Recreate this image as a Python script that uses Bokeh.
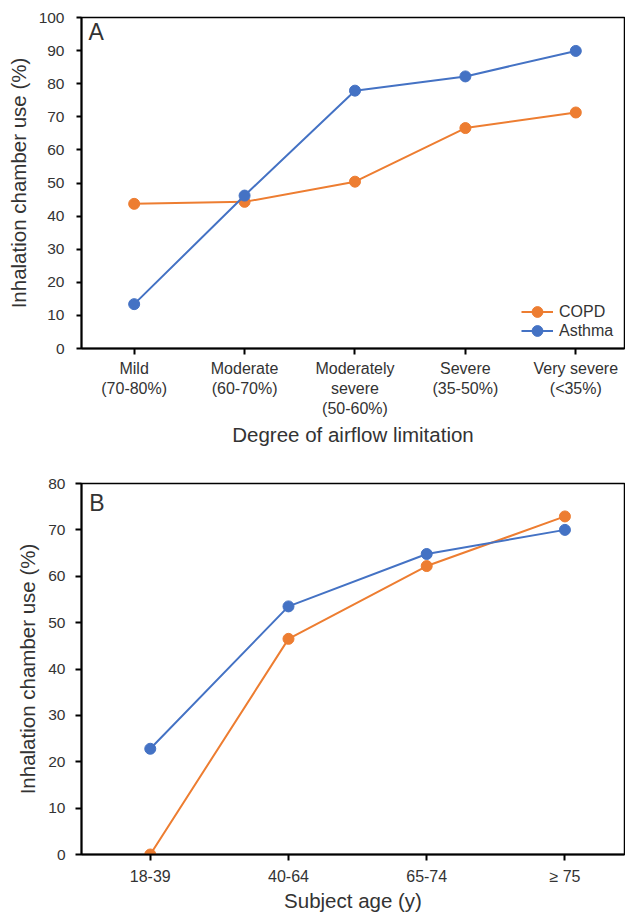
from bokeh.plotting import figure
from bokeh.layouts import column
from bokeh.models import Range1d, FixedTicker, Label, Legend, LegendItem
from bokeh.embed import file_html
from bokeh.resources import INLINE

# ---- Panel A data ----
severity_labels = ["Mild\n(70-80%)", "Moderate\n(60-70%)", "Moderately\nsevere\n(50-60%)",
                   "Severe\n(35-50%)", "Very severe\n(<35%)"]
severity_pos = [0, 1, 2, 3, 4]
copd_a = [43.7, 44.3, 50.4, 66.6, 71.3]
asthma_a = [13.4, 46.2, 77.9, 82.2, 89.9]

# ---- Panel B data ----
age_labels = ["18-39", "40-64", "65-74", "≥ 75"]
age_pos = [0, 1, 2, 3]
copd_b = [0.0, 46.5, 62.2, 72.9]
asthma_b = [22.8, 53.5, 64.8, 70.0]

ORANGE = "#ED7D31"
BLUE = "#4472C4"
FONT = "Liberation Sans"
TXT = "#333333"


def style(p, yticks, xticks, xlabels, xstand, xtitle_stand, ystand, ytick_out, xtick_out):
    p.outline_line_color = "black"
    p.outline_line_width = 1.5
    p.grid.visible = False
    for ax in (p.xaxis[0], p.yaxis[0]):
        ax.axis_line_color = "black"
        ax.axis_line_width = 2
        ax.major_tick_line_color = "black"
        ax.major_tick_line_width = 2
        ax.major_tick_in = 0
        ax.minor_tick_line_color = None
        ax.major_label_text_font = FONT
        ax.major_label_text_color = TXT
        ax.axis_label_text_font = FONT
        ax.axis_label_text_color = TXT
        ax.axis_label_text_font_style = "normal"
        ax.axis_label_text_font_size = "20.5px"
    p.yaxis.ticker = FixedTicker(ticks=yticks)
    p.yaxis.major_label_text_font_size = "15.5px"
    p.yaxis.major_label_standoff = ystand
    p.yaxis.major_tick_out = ytick_out
    p.yaxis.axis_label_standoff = 6
    p.xaxis.ticker = FixedTicker(ticks=xticks)
    p.xaxis.major_label_overrides = {x: l for x, l in zip(xticks, xlabels)}
    p.xaxis.major_label_text_font_size = "16px"
    p.xaxis.major_label_standoff = xstand
    p.xaxis.major_tick_out = xtick_out
    p.xaxis.axis_label_standoff = xtitle_stand


def make_legend(label, renderers, loc):
    leg = Legend(items=[LegendItem(label=label, renderers=renderers)], location=loc)
    leg.label_text_font = FONT
    leg.label_text_font_size = "16px"
    leg.label_text_color = TXT
    leg.glyph_width = 32
    leg.glyph_height = 27
    leg.label_height = 19
    leg.label_standoff = 6
    leg.spacing = 0
    leg.padding = 0
    leg.margin = 0
    leg.border_line_color = None
    leg.background_fill_alpha = 0
    return leg


# ---------------- Panel A ----------------
pa = figure(width=625, height=460, output_backend="svg", toolbar_location=None,
            x_range=Range1d(-0.477, 4.441), y_range=Range1d(0, 100),
            min_border_left=81, min_border_top=17, min_border_right=1, min_border_bottom=112,
            x_axis_label="Degree of airflow limitation",
            y_axis_label="Inhalation chamber use (%)")
style(pa, list(range(0, 101, 10)), severity_pos, severity_labels, 5, 3, 12, 5, 6)

la1 = pa.line(severity_pos, copd_a, line_color=ORANGE, line_width=2)
sa1 = pa.scatter(severity_pos, copd_a, size=11, fill_color=ORANGE, line_color=ORANGE)
la2 = pa.line(severity_pos, asthma_a, line_color=BLUE, line_width=2)
sa2 = pa.scatter(severity_pos, asthma_a, size=11, fill_color=BLUE, line_color=BLUE)

pa.add_layout(make_legend("COPD", [la1, sa1], (440, 23)))
pa.add_layout(make_legend("Asthma", [la2, sa2], (440, 4)))

pa.add_layout(Label(x=-0.414, y=95.5, text="A", text_font=FONT, text_font_size="23px",
                    text_color=TXT, text_baseline="alphabetic"))

# ---------------- Panel B ----------------
pb = figure(width=625, height=454, output_backend="svg", toolbar_location=None,
            x_range=Range1d(-0.4975, 3.431), y_range=Range1d(0, 80),
            min_border_left=71, min_border_top=23, min_border_right=1, min_border_bottom=57,
            x_axis_label="Subject age (y)",
            y_axis_label="Inhalation chamber use (%)")
style(pb, list(range(0, 81, 10)), age_pos, age_labels, 7, 1, 10, 6, 6)

lb1 = pb.line(age_pos, copd_b, line_color=ORANGE, line_width=2)
pb.scatter(age_pos, copd_b, size=11, fill_color=ORANGE, line_color=ORANGE)
lb2 = pb.line(age_pos, asthma_b, line_color=BLUE, line_width=2)
pb.scatter(age_pos, asthma_b, size=11, fill_color=BLUE, line_color=BLUE)

pb.add_layout(Label(x=-0.441, y=75.9, text="B", text_font=FONT, text_font_size="23px",
                    text_color=TXT, text_baseline="alphabetic"))

layout = column(pa, pb, spacing=0)
open("out.html", "w").write(file_html(layout, INLINE))
